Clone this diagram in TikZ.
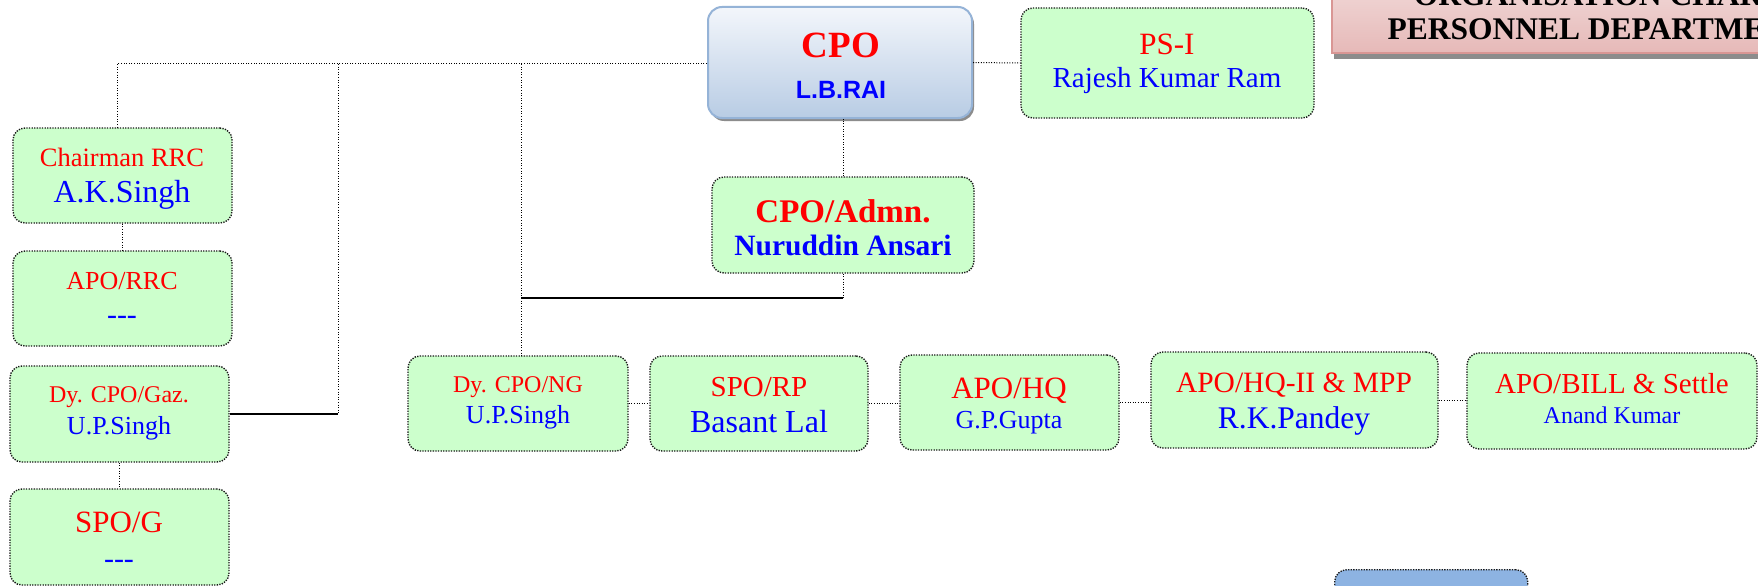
\documentclass[tikz,border=0pt]{standalone}
\usepackage{fontspec}
\setmainfont{Liberation Serif}
\newfontfamily\arialf{Liberation Sans}
\newcommand{\fsz}[1]{\fontsize{#1}{#1}\selectfont}
\definecolor{boxgreen}{HTML}{CCFFCC}
\definecolor{txtred}{HTML}{FF0000}
\definecolor{txtblue}{HTML}{0000FF}
\definecolor{cpotop}{HTML}{F3F6FB}
\definecolor{cpobot}{HTML}{B8CCE4}
\definecolor{cpoborder}{HTML}{95B3D7}
\definecolor{ttltop}{HTML}{F2DCDB}
\definecolor{ttlbot}{HTML}{E6B9B8}
\definecolor{ttlborder}{HTML}{D99694}
\definecolor{bluebox}{HTML}{8DB3E2}
\begin{document}
\begin{tikzpicture}[x=1pt,y=-1pt,
 gbox/.style={draw=black!90, line width=1.4pt, dash pattern=on 1.3pt off 1.3pt, fill=boxgreen, rounded corners=12pt, inner sep=0pt},
 conn/.style={draw=black, line width=1pt, dash pattern=on 1pt off 1.6pt},
 solidc/.style={draw=black, line width=2pt},
 rt/.style={text=txtred, anchor=base, inner sep=0pt},
 bt/.style={text=txtblue, anchor=base, inner sep=0pt},
 shad/.style={fill=black!45, inner sep=0pt},
]
\useasboundingbox (0,0) rectangle (1758,586);
\clip (0,0) rectangle (1758,586);
\fill[white] (0,0) rectangle (1758,586);

% title box
\node[shad, minimum width=600pt, minimum height=80pt, anchor=south west] (titlesh) at (1334,59) {};
\node[draw=ttlborder, line width=1.5pt, top color=ttltop, bottom color=ttlbot, minimum width=600pt, minimum height=80pt, anchor=south west, inner sep=0pt] (title) at (1331,54) {};
\node[anchor=base, inner sep=0pt, font=\bfseries\fsz{31.5}] (t1) at (1598,6) {ORGANISATION CHART};
\node[anchor=base, inner sep=0pt, font=\bfseries\fsz{31.5}] (t2) at (1598,40) {PERSONNEL DEPARTMENT};

% CPO
\node[shad, rounded corners=14pt, minimum width=264pt, minimum height=111pt] (cposh) at (842,65.5) {};
\node[rounded corners=14pt, top color=cpotop, bottom color=cpobot, draw=cpoborder, line width=2pt, minimum width=264pt, minimum height=111pt, inner sep=0pt] (cpo) at (840,62.5) {};
\node[rt, font=\bfseries\fsz{37}] (cpot) at (841,58) {CPO};
\node[bt, font=\arialf\bfseries\fsz{25}] (cpon) at (841,99) {L.B.RAI};

% PS-I
\node[gbox, minimum width=293pt, minimum height=110pt] (psi) at (1167.5,63) {};
\node[rt, font=\fsz{31}] (psit) at (1167,55) {PS-I};
\node[bt, font=\fsz{29}] (psin) at (1167,88) {Rajesh Kumar Ram};

% CPO/Admn
\node[gbox, minimum width=262pt, minimum height=96pt] (admn) at (843,225) {};
\node[rt, font=\bfseries\fsz{33}] (admnt) at (843,222) {CPO/Admn.};
\node[bt, font=\bfseries\fsz{29.5}] (admnn) at (843,255) {Nuruddin Ansari};

% left column
\node[gbox, minimum width=219pt, minimum height=95pt] (chair) at (122.5,175.5) {};
\node[rt, font=\fsz{26.5}] (chairt) at (122,166) {Chairman RRC};
\node[bt, font=\fsz{32}] (chairn) at (122,202) {A.K.Singh};

\node[gbox, minimum width=219pt, minimum height=95pt] (aporrc) at (122.5,298.5) {};
\node[rt, font=\fsz{26}] (aporrct) at (122,289) {APO/RRC};
\node[bt, font=\fsz{30}] (aporrcn) at (122,324) {-{}-{}-};

\node[gbox, minimum width=219pt, minimum height=96pt] (gaz) at (119.5,414) {};
\node[rt, font=\fsz{24}] (gazt) at (119,402) {Dy. CPO/Gaz.};
\node[bt, font=\fsz{26}] (gazn) at (119,434) {U.P.Singh};

\node[gbox, minimum width=219pt, minimum height=96pt] (spog) at (119.5,537) {};
\node[rt, font=\fsz{31}] (spogt) at (119,532) {SPO/G};
\node[bt, font=\fsz{30}] (spogn) at (119,568) {-{}-{}-};

% bottom row
\node[gbox, minimum width=220pt, minimum height=95pt] (ng) at (518,403.5) {};
\node[rt, font=\fsz{24}] (ngt) at (518,392) {Dy. CPO/NG};
\node[bt, font=\fsz{26}] (ngn) at (518,423) {U.P.Singh};

\node[gbox, minimum width=218pt, minimum height=95pt] (sporp) at (759,403.5) {};
\node[rt, font=\fsz{29}] (sporpt) at (759,396) {SPO/RP};
\node[bt, font=\fsz{32}] (sporpn) at (759,432) {Basant Lal};

\node[gbox, minimum width=219pt, minimum height=95pt] (apohq) at (1009.5,402.5) {};
\node[rt, font=\fsz{31}] (apohqt) at (1009,398) {APO/HQ};
\node[bt, font=\fsz{26}] (apohqn) at (1009,428) {G.P.Gupta};

\node[gbox, minimum width=287pt, minimum height=96pt] (hq2) at (1294.5,400) {};
\node[rt, font=\fsz{29.5}] (hq2t) at (1294,392) {APO/HQ-II \& MPP};
\node[bt, font=\fsz{31.5}] (hq2n) at (1294,428) {R.K.Pandey};

\node[gbox, minimum width=290pt, minimum height=96pt] (bill) at (1612,401) {};
\node[rt, font=\fsz{29}] (billt) at (1612,393) {APO/BILL \& Settle};
\node[bt, font=\fsz{24}] (billn) at (1612,423) {Anand Kumar};

% blue box at bottom right
\node[gbox, fill=bluebox, minimum width=193pt, minimum height=100pt, anchor=north west] (bb) at (1334,569) {};

% connectors
\coordinate (tl) at (117,64);
\coordinate (g1) at (338,64);
\coordinate (n1) at (521,64);
\draw[conn] (cpo.west |- tl) -- (tl) -- (tl |- chair.north);
\draw[conn] (g1) -- (g1 |- gaz.east);
\draw[solidc] (g1 |- gaz.east) -- (gaz.east);
\draw[conn] (n1) -- (n1 |- ng.north);
\draw[conn] (cpo.east) -- (psi.west);
\draw[conn] (admn.north) -- (admn.north |- cpo.south);
\draw[conn] (admn.south) -- ++(0,24) coordinate (a1);
\draw[solidc] (a1) -- (a1 -| n1);
\draw[conn] (chair.south) -- (aporrc.north);
\draw[conn] (gaz.south) -- (spog.north);
\draw[conn] (ng.east) -- (sporp.west);
\draw[conn] (sporp.east) -- (sporp.east -| apohq.west);
\draw[conn] (apohq.east) -- (apohq.east -| hq2.west);
\draw[conn] (hq2.east) -- (hq2.east -| bill.west);
\end{tikzpicture}
\end{document}
